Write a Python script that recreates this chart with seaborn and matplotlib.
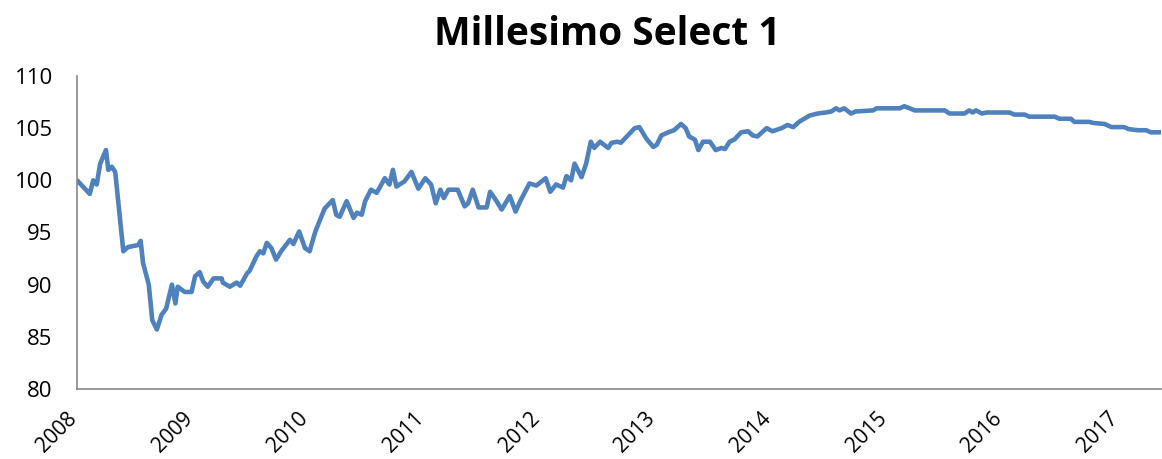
import numpy as np
import pandas as pd
import matplotlib
matplotlib.use('Agg')
import matplotlib.pyplot as plt
import matplotlib.transforms as mtransforms
import seaborn as sns

# values (decimal year, index level)
years = [
    2008.00, 2008.11, 2008.14, 2008.17, 2008.20, 2008.25, 2008.27, 2008.30, 2008.33, 2008.40,
    2008.44, 2008.53, 2008.55, 2008.57, 2008.62, 2008.65, 2008.69, 2008.73, 2008.77, 2008.82,
    2008.85, 2008.87, 2008.93, 2008.99, 2009.02, 2009.06, 2009.09, 2009.13, 2009.18, 2009.25,
    2009.26, 2009.32, 2009.38, 2009.41, 2009.47, 2009.49, 2009.55, 2009.58, 2009.61, 2009.64,
    2009.68, 2009.72, 2009.77, 2009.84, 2009.87, 2009.92, 2009.97, 2010.01, 2010.06, 2010.10,
    2010.14, 2010.21, 2010.24, 2010.27, 2010.33, 2010.39, 2010.42, 2010.46, 2010.49, 2010.54,
    2010.59, 2010.66, 2010.70, 2010.73, 2010.76, 2010.83, 2010.89, 2010.95, 2011.01, 2011.06,
    2011.10, 2011.14, 2011.17, 2011.21, 2011.29, 2011.35, 2011.38, 2011.42, 2011.47, 2011.54,
    2011.57, 2011.62, 2011.67, 2011.74, 2011.79, 2011.83, 2011.91, 2011.97, 2012.05, 2012.09,
    2012.14, 2012.20, 2012.23, 2012.27, 2012.30, 2012.36, 2012.40, 2012.44, 2012.47, 2012.52,
    2012.59, 2012.62, 2012.67, 2012.70, 2012.76, 2012.82, 2012.86, 2012.92, 2012.98, 2013.01,
    2013.05, 2013.11, 2013.16, 2013.22, 2013.26, 2013.29, 2013.34, 2013.37, 2013.41, 2013.47,
    2013.52, 2013.57, 2013.60, 2013.64, 2013.68, 2013.74, 2013.80, 2013.84, 2013.88, 2013.96,
    2014.01, 2014.09, 2014.14, 2014.19, 2014.24, 2014.33, 2014.40, 2014.47, 2014.52, 2014.56,
    2014.59, 2014.63, 2014.69, 2014.73, 2014.88, 2014.91, 2015.11, 2015.15, 2015.24, 2015.50,
    2015.54, 2015.67, 2015.71, 2015.74, 2015.77, 2015.82, 2015.86, 2016.06, 2016.10, 2016.19,
    2016.23, 2016.45, 2016.49, 2016.59, 2016.62, 2016.75, 2016.78, 2016.88, 2016.94, 2017.05,
    2017.09, 2017.17, 2017.24, 2017.28, 2017.37,
]
values = [
    100.0, 98.7, 100.0, 99.6, 101.6, 102.9, 101.0, 101.3, 100.8, 93.2,
    93.6, 93.8, 94.2, 92.1, 90.0, 86.6, 85.7, 87.1, 87.7, 90.0,
    88.2, 89.8, 89.3, 89.3, 90.8, 91.2, 90.3, 89.8, 90.6, 90.6,
    90.2, 89.8, 90.2, 89.9, 91.1, 91.3, 92.7, 93.2, 93.0, 94.0,
    93.5, 92.4, 93.3, 94.3, 93.9, 95.1, 93.5, 93.2, 95.1, 96.2,
    97.3, 98.1, 96.7, 96.5, 98.0, 96.4, 96.9, 96.7, 98.0, 99.1,
    98.8, 100.2, 99.6, 101.0, 99.4, 99.9, 100.8, 99.2, 100.2, 99.6,
    97.8, 99.1, 98.3, 99.1, 99.1, 97.5, 97.8, 99.1, 97.4, 97.4,
    98.9, 98.1, 97.2, 98.5, 97.0, 98.0, 99.7, 99.5, 100.2, 98.9,
    99.6, 99.3, 100.4, 100.0, 101.6, 100.3, 101.6, 103.7, 103.1, 103.7,
    103.1, 103.6, 103.7, 103.6, 104.3, 105.0, 105.1, 104.0, 103.2, 103.4,
    104.3, 104.6, 104.8, 105.4, 105.0, 104.2, 103.9, 102.9, 103.7, 103.7,
    102.9, 103.1, 103.0, 103.7, 103.9, 104.6, 104.7, 104.3, 104.2, 105.0,
    104.7, 105.0, 105.3, 105.1, 105.6, 106.2, 106.4, 106.5, 106.6, 106.9,
    106.7, 106.9, 106.4, 106.6, 106.7, 106.9, 106.9, 107.1, 106.7, 106.7,
    106.4, 106.4, 106.7, 106.5, 106.7, 106.4, 106.5, 106.5, 106.3, 106.3,
    106.1, 106.1, 105.9, 105.9, 105.6, 105.6, 105.5, 105.4, 105.1, 105.1,
    104.9, 104.8, 104.8, 104.6, 104.6,
]
year_ticks = list(range(2008, 2018))
level_ticks = [80, 85, 90, 95, 100, 105, 110]

df = pd.DataFrame({'year': years, 'level': values})

sns.set_style('white')
plt.rcParams['font.family'] = ['Open Sans', 'DejaVu Sans']

fig = plt.figure(figsize=(11.62, 4.59), dpi=100)
ax = fig.add_axes([0.0663, 0.1525, 0.933, 0.682])

sns.lineplot(data=df, x='year', y='level', ax=ax, color='#4F81BD', linewidth=3.3)

ax.set_xlim(2008, 2017.37)
ax.set_ylim(80, 110)
ax.set_xticks(year_ticks)
ax.set_xticklabels([str(y) for y in year_ticks], rotation=45, ha='right', fontsize=15)
ax.set_yticks(level_ticks)
ax.set_yticklabels([str(v) for v in level_ticks], fontsize=16)
ax.set_xlabel('')
ax.set_ylabel('')

for side in ['top', 'right']:
    ax.spines[side].set_visible(False)
for side in ['left', 'bottom']:
    ax.spines[side].set_color('#868686')
    ax.spines[side].set_linewidth(1.2)
ax.tick_params(axis='both', which='major', direction='out', length=6.5, width=1.2,
               color='#868686', labelcolor='black')
ax.tick_params(axis='y', pad=11)
ax.tick_params(axis='x', pad=7)

# nudge the rotated year labels a little to the right, like the original
shift = mtransforms.ScaledTranslation(4 / 100, 0, fig.dpi_scale_trans)
for lbl in ax.get_xticklabels():
    lbl.set_transform(lbl.get_transform() + shift)

fig.text(0.523, 0.902, 'Millesimo Select 1', ha='center', va='baseline',
         fontsize=28, fontweight='bold', color='black')

fig.savefig('out.png', dpi=100)
